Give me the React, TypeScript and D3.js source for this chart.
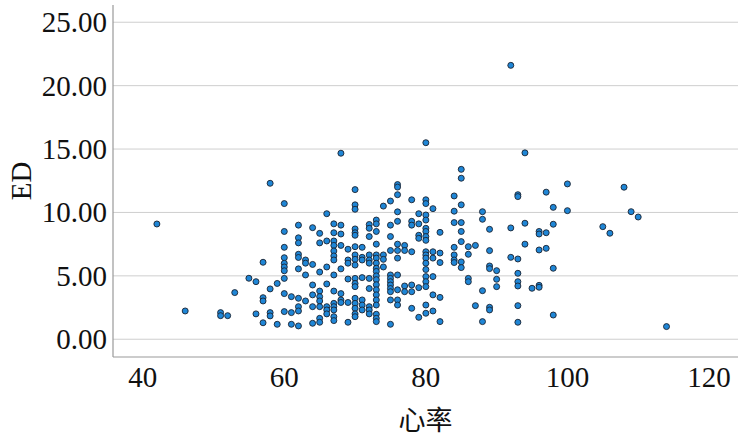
import React from "react";
import * as d3 from "d3";

const xTicks = [40, 60, 80, 100, 120];
const yTicks = [0, 5, 10, 15, 20, 25];
const xLabel = "心率";
const yLabel = "ED";

// heart rate (x) per point
const heartRate: number[] = [
  42, 46, 51, 51, 52, 53, 55, 56, 56,
  57, 57, 57, 57, 58, 58, 58, 58, 59, 59,
  60, 60, 60, 60, 60, 60, 60, 60, 60, 60,
  61, 61, 61,
  62, 62, 62, 62, 62, 62, 62, 62, 62, 62,
  63, 63, 63, 63,
  64, 64, 64, 64, 64, 64,
  65, 65, 65, 65, 65, 65, 65, 65, 65,
  66, 66, 66, 66, 66, 66, 66,
  67, 67, 67, 67, 67, 67, 67, 67, 67, 67, 67, 67, 67, 67,
  68, 68, 68, 68, 68, 68, 68, 68,
  69, 69, 69, 69, 69, 69,
  70, 70, 70, 70, 70, 70, 70, 70, 70, 70, 70, 70, 70, 70, 70, 70, 70, 70,
  71, 71, 71, 71, 71, 71, 71,
  72, 72, 72, 72, 72, 72, 72, 72, 72, 72, 72,
  73, 73, 73, 73, 73, 73, 73, 73, 73, 73, 73, 73, 73, 73, 73, 73, 73, 73, 73,
  74, 74, 74, 74,
  75, 75, 75, 75, 75, 75, 75, 75, 75, 75, 75, 75,
  76, 76, 76, 76, 76, 76, 76, 76, 76, 76, 76, 76,
  77, 77, 77, 77,
  78, 78, 78, 78, 78, 78, 78,
  79, 79, 79, 79, 79, 79,
  80, 80, 80, 80, 80, 80, 80, 80, 80, 80, 80, 80, 80, 80, 80, 80, 80, 80, 80,
  81, 81, 81, 81, 81, 81,
  82, 82, 82, 82, 82,
  84, 84, 84, 84, 84, 84, 84,
  85, 85, 85, 85, 85, 85, 85, 85,
  86, 86, 86, 86,
  87, 87,
  88, 88, 88, 88,
  89, 89, 89, 89, 89, 89,
  90, 90, 90,
  92, 92, 92,
  93, 93, 93, 93, 93, 93, 93, 93,
  94, 94, 94,
  95,
  96, 96, 96, 96, 96,
  97, 97, 97,
  98, 98, 98, 98,
  100, 100,
  105, 106, 108, 109, 110, 114,
];

// ED value (y) per point
const edValue: number[] = [
  9.09, 2.23, 2.1, 1.86, 1.86, 3.68, 4.81, 4.54, 2.0,
  6.07, 3.28, 3.02, 1.3, 12.3, 3.97, 2.1, 1.84, 4.4, 1.18,
  10.7, 8.5, 7.25, 6.43, 5.99, 5.7, 5.4, 4.8, 3.6, 2.18,
  3.36, 2.1, 1.18,
  9.0, 8.0, 7.6, 6.7, 6.45, 5.55, 3.23, 2.57, 2.23, 1.05,
  6.25, 6.0, 5.07, 3.02,
  8.8, 5.9, 4.28, 3.5, 2.57, 1.26,
  8.35, 7.6, 5.3, 3.8, 3.36, 3.02, 2.57, 1.65, 1.34,
  9.9, 7.75, 5.7, 4.36, 2.57, 2.31, 2.0,
  9.1, 8.4, 7.75, 7.4, 6.96, 6.57, 6.25, 5.07, 3.8, 2.83, 2.57, 2.31, 1.78, 1.47,
  14.67, 9.0, 8.3, 7.4, 5.55, 3.6, 3.1, 2.9,
  7.1, 6.25, 6.0, 4.75, 2.9, 1.34,
  11.8, 10.6, 10.25, 8.7, 8.4, 8.2, 7.3, 6.65, 6.3, 5.85, 4.8, 4.4, 4.15, 3.23, 2.83, 2.44, 2.0, 1.78,
  7.25, 6.46, 6.25, 4.86, 3.1, 2.7, 2.31,
  9.05, 8.75, 8.1, 6.65, 6.25, 6.0, 4.8, 4.0, 2.57, 2.31, 2.0,
  9.4, 9.1, 8.5, 7.5, 6.65, 6.4, 6.0, 5.6, 5.35, 5.0, 4.7, 4.3, 3.9, 3.5, 3.1, 2.7, 1.97, 1.65, 1.39,
  10.5, 6.65, 6.3, 5.7,
  10.9, 9.0, 8.1, 7.0, 5.07, 4.8, 4.54, 4.28, 4.0, 3.75, 3.1, 1.18,
  12.2, 12.0, 11.4, 10.05, 9.3, 7.5, 7.0, 6.4, 5.07, 3.9, 3.1, 2.7,
  7.4, 7.0, 4.2, 3.75,
  11.0, 9.3, 9.0, 6.9, 4.28, 3.75, 2.44,
  9.9, 9.1, 8.2, 7.96, 4.07, 1.73,
  15.5, 11.0, 10.7, 9.8, 9.4, 8.75, 8.5, 8.1, 7.8, 6.9, 6.65, 6.4, 6.0, 5.5, 4.94, 4.54, 4.15, 2.7, 2.05,
  10.3, 6.9, 6.4, 4.94, 3.5, 2.23,
  8.43, 6.8, 6.05, 3.3, 1.39,
  11.3, 10.1, 9.2, 7.25, 6.65, 6.25, 6.05,
  13.4, 12.7, 10.6, 9.2, 8.5, 7.7, 6.1, 5.65,
  7.3, 6.7, 4.8, 4.54,
  7.4, 2.65,
  10.06, 9.46, 3.83, 1.39,
  8.67, 6.99, 5.78, 5.57, 2.52, 2.31,
  5.41, 4.73, 4.15,
  21.6, 8.78, 6.46,
  11.4, 11.25, 6.33, 5.2, 4.54, 4.2, 2.65, 1.34,
  14.7, 9.15, 7.5,
  4.02,
  8.5, 8.3, 7.04, 4.25, 4.1,
  11.6, 8.4, 7.17,
  10.4, 9.07, 5.6, 1.91,
  12.25, 10.14,
  8.88, 8.36, 11.99, 10.06, 9.64, 1.0,
];

const W = 746;
const H = 442;
const left = 113;
const right = 738;
const top = 5;
const bottom = 357;

export default function App() {
  const x = d3.scaleLinear().domain([35.8, 124.1]).range([left, right]);
  const y = d3.scaleLinear().domain([-1.4, 26.36]).range([bottom, top]);
  const fmt = d3.format(".2f");
  const serif = "'Liberation Serif', 'Times New Roman', serif";
  const pts = heartRate.map((h, i) => ({ h, e: edValue[i] }));

  return (
    <svg
      width={W}
      height={H}
      style={{ position: "absolute", left: 0, top: 0, background: "#fff" }}
    >
      {yTicks.map((t) => (
        <g key={"y" + t}>
          <line x1={left} x2={right} y1={y(t)} y2={y(t)} stroke="#cfcfcf" strokeWidth={1} />
          <text
            x={107}
            y={y(t)}
            dy="0.34em"
            textAnchor="end"
            fontFamily={serif}
            fontSize={29}
            fill="#111"
          >
            {fmt(t)}
          </text>
        </g>
      ))}
      {xTicks.map((t) => (
        <text
          key={"x" + t}
          x={x(t)}
          y={387}
          textAnchor="middle"
          fontFamily={serif}
          fontSize={29}
          fill="#111"
        >
          {t}
        </text>
      ))}
      <line x1={left} x2={left} y1={top} y2={bottom} stroke="#999" strokeWidth={1.2} />
      <line x1={left} x2={right} y1={bottom} y2={bottom} stroke="#999" strokeWidth={1.2} />
      {pts.map((p, i) => (
        <circle
          key={i}
          cx={x(p.h)}
          cy={y(p.e)}
          r={3}
          fill="#1f86d6"
          stroke="#1b2330"
          strokeWidth={0.9}
        />
      ))}
      <text
        x={(left + right) / 2}
        y={430}
        textAnchor="middle"
        fontFamily="'Noto Sans CJK SC', 'Noto Sans CJK TC', serif"
        fontSize={27}
        fill="#111"
      >
        {xLabel}
      </text>
      <text
        transform={`translate(31, ${(top + bottom) / 2}) rotate(-90)`}
        textAnchor="middle"
        fontFamily={serif}
        fontSize={29}
        fill="#111"
      >
        {yLabel}
      </text>
    </svg>
  );
}
